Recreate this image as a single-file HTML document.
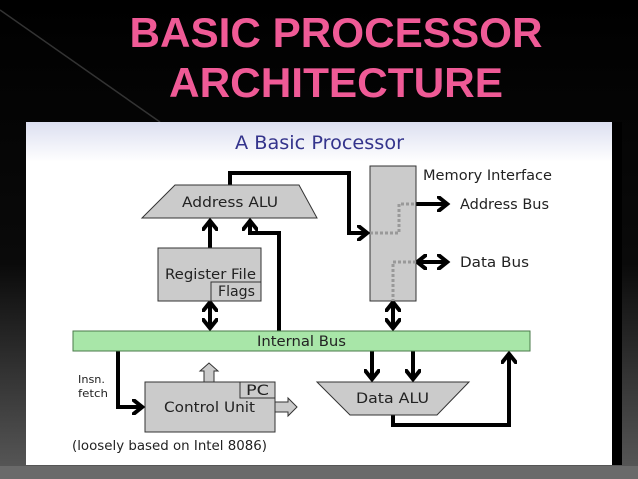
<!DOCTYPE html>
<html><head><meta charset="utf-8"><style>
html,body{margin:0;padding:0;width:638px;height:479px;overflow:hidden;background:#000}
svg{display:block}
text{font-family:"DejaVu Sans","Liberation Sans",sans-serif}
</style></head><body>
<svg width="638" height="479" viewBox="0 0 638 479" xmlns="http://www.w3.org/2000/svg">
<defs>
<linearGradient id="bg" x1="0" y1="0" x2="0" y2="1">
<stop offset="0" stop-color="#000"/><stop offset="0.55" stop-color="#0a0a0a"/><stop offset="1" stop-color="#5a5a5a"/>
</linearGradient>
<linearGradient id="hd" x1="0" y1="0" x2="0" y2="1">
<stop offset="0" stop-color="#dcdff0"/><stop offset="1" stop-color="#ffffff"/>
</linearGradient>
<marker id="ah" markerWidth="4" markerHeight="4" refX="2.2" refY="2" orient="auto" markerUnits="strokeWidth"><path d="M0,0 L2.5,2 L0,4" fill="none" stroke="#000" stroke-width="1"/></marker>
<marker id="as" markerWidth="4" markerHeight="4" refX="1.8" refY="2" orient="auto-start-reverse" markerUnits="strokeWidth"><path d="M0,0 L2.5,2 L0,4" fill="none" stroke="#000" stroke-width="1"/></marker>
</defs>
<rect width="638" height="479" fill="url(#bg)"/>
<path d="M0,10 L160,122" stroke="#333" stroke-width="1.5"/>
<rect x="0" y="466" width="638" height="13" fill="#6a6a6a"/>
<text x="336" y="47" text-anchor="middle" font-weight="bold" font-size="42" fill="#ef5a96" textLength="413" lengthAdjust="spacingAndGlyphs" style="font-family:'Liberation Sans',sans-serif">BASIC PROCESSOR</text>
<text x="336" y="97" text-anchor="middle" font-weight="bold" font-size="42" fill="#ef5a96" textLength="334" lengthAdjust="spacingAndGlyphs" style="font-family:'Liberation Sans',sans-serif">ARCHITECTURE</text>
<rect x="26" y="122" width="596" height="343" fill="#fff"/>
<rect x="26" y="122" width="586" height="40" fill="url(#hd)"/>
<rect x="612" y="122" width="10" height="343" fill="#000"/>
<text x="235" y="149" font-size="19" fill="#34348c" textLength="169" lengthAdjust="spacingAndGlyphs">A Basic Processor</text>
<g stroke="#000" stroke-width="4" fill="none" stroke-linejoin="miter">
<path d="M230,185 V173 H349 V233 H366" marker-end="url(#ah)"/>
<path d="M210,248 V222" marker-end="url(#ah)"/>
<path d="M279,331 V233 H250 V222" marker-end="url(#ah)"/>
<path d="M210,305 V327" marker-end="url(#ah)" marker-start="url(#as)"/>
<path d="M393,305 V327" marker-end="url(#ah)" marker-start="url(#as)"/>
<path d="M416,204 H446" marker-end="url(#ah)"/>
<path d="M420,262 H446" marker-end="url(#ah)" marker-start="url(#as)"/>
<path d="M118,351 V407 H141" marker-end="url(#ah)"/>
<path d="M372,351 V378" marker-end="url(#ah)"/>
<path d="M413,351 V378" marker-end="url(#ah)"/>
<path d="M393,415 V425 H509 V355" marker-end="url(#ah)"/>
</g>
<g stroke="#333" stroke-width="1" fill="#cbcbcb">
<polygon points="175,185 299,185 317,218 142,218"/>
<rect x="158" y="248" width="103" height="53"/>
<rect x="211" y="282" width="50" height="19"/>
<rect x="370" y="166" width="46" height="135"/>
<rect x="73" y="331" width="457" height="20" fill="#a8e6a8" stroke="#4a7a4a"/>
<polygon points="204,382 204,371 200,371 209,363 218,371 214,371 214,382"/>
<polygon points="275,402 288,402 288,398 297,407 288,416 288,412 275,412"/>
<rect x="145" y="382" width="130" height="50"/>
<rect x="240" y="382" width="35" height="16"/>
<polygon points="317,382 469,382 437,415 350,415"/>
</g>
<g stroke="#999" stroke-width="3" stroke-dasharray="3,2" fill="none">
<path d="M370,233 H399 V204 H416"/>
<path d="M416,262 H393 V301"/>
</g>
<g font-size="14" fill="#222">
<text x="182" y="207" textLength="96" lengthAdjust="spacingAndGlyphs">Address ALU</text>
<text x="165" y="279" textLength="91" lengthAdjust="spacingAndGlyphs">Register File</text>
<text x="218" y="296" textLength="37" lengthAdjust="spacingAndGlyphs">Flags</text>
<text x="423" y="180" textLength="129" lengthAdjust="spacingAndGlyphs">Memory Interface</text>
<text x="460" y="209" textLength="89" lengthAdjust="spacingAndGlyphs">Address Bus</text>
<text x="460" y="267" textLength="69" lengthAdjust="spacingAndGlyphs">Data Bus</text>
<text x="257" y="346" textLength="89" lengthAdjust="spacingAndGlyphs">Internal Bus</text>
<text x="164" y="412" textLength="91" lengthAdjust="spacingAndGlyphs">Control Unit</text>
<text x="246" y="395" textLength="23" lengthAdjust="spacingAndGlyphs">PC</text>
<text x="356" y="403" textLength="73" lengthAdjust="spacingAndGlyphs">Data ALU</text>
<text x="78" y="383" font-size="11" textLength="27" lengthAdjust="spacingAndGlyphs">Insn.</text>
<text x="78" y="397" font-size="11" textLength="30" lengthAdjust="spacingAndGlyphs">fetch</text>
<text x="72" y="450" font-size="13" textLength="195" lengthAdjust="spacingAndGlyphs">(loosely based on Intel 8086)</text>
</g>
</svg>
</body></html>
